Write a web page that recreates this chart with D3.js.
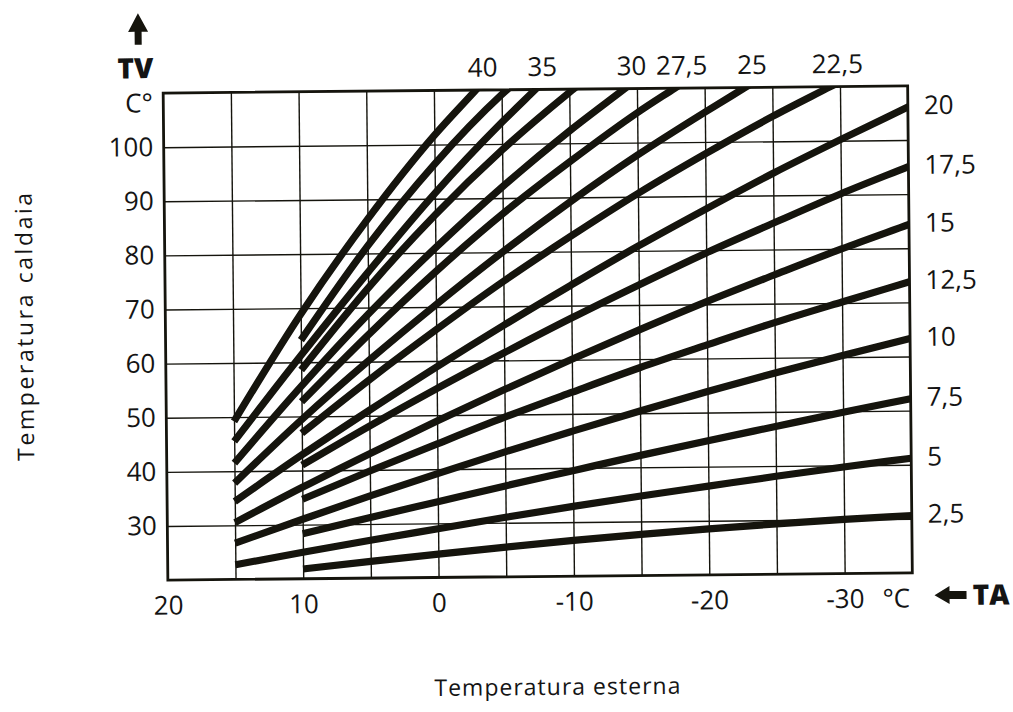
<!DOCTYPE html>
<html><head><meta charset="utf-8">
<script src="https://cdn.jsdelivr.net/npm/d3@7"></script>
<style>
body{margin:0;background:#fff}
svg{display:block}
text{font-family:"Open Sans","Noto Sans",sans-serif;fill:#141414}
</style>
</head><body>
<svg id="c" width="1013" height="712"></svg>
<script>
// ---- data ----
const taTicks = [20, 10, 0, -10, -20, -30];                 // outside temperature labels
const taGrid  = [15, 10, 5, 0, -5, -10, -15, -20, -25, -30]; // vertical grid lines
const tvTicks = [30, 40, 50, 60, 70, 80, 90, 100];           // boiler temperature labels
const ta      = [15, 10, 5, 0, -5, -10, -15, -20, -25, -30, -35]; // sample points of curves

const curveLabels = ["2,5","5","7,5","10","12,5","15","17,5","20","22,5","25","27,5","30","32,5","35","37,5","40"];

const tv2_5  = [null, 21.8, 23.1, 24.3, 25.5, 26.6, 27.6, 28.5, 29.3, 30.0, 30.6];
const tv5    = [22.7, 24.9, 27.0, 29.0, 31.0, 32.9, 34.7, 36.4, 38.1, 39.7, 41.2];
const tv7_5  = [null, 28.3, 31.2, 34.0, 36.8, 39.5, 42.2, 44.8, 47.3, 49.8, 52.2];
const tv10   = [26.7, 31.0, 35.2, 39.2, 43.1, 46.8, 50.4, 53.9, 57.2, 60.3, 63.3];
const tv12_5 = [null, 34.7, 39.8, 44.7, 49.5, 54.0, 58.4, 62.5, 66.5, 70.2, 73.8];
const tv15   = [30.5, 36.9, 43.0, 48.9, 54.6, 60.1, 65.4, 70.5, 75.3, 80.0, 84.4];
const tv17_5 = [null, 41.0, 48.1, 54.9, 61.4, 67.7, 73.7, 79.5, 84.9, 90.2, 95.1];
const tv20   = [34.4, 42.9, 51.0, 58.9, 66.5, 73.8, 80.9, 87.6, 94.1, 100.2, 106.1];
const tv22_5 = [null, 46.9, 56.6, 65.8, 74.6, 82.8, 90.6, 97.8, 104.6, null, null];
const tv25   = [37.8, 49.4, 60.2, 70.4, 80.1, 89.2, 97.7, 105.5, null, null, null];
const tv27_5 = [null, 52.7, 65.0, 76.5, 87.1, 96.6, 105.5, null, null, null, null];
const tv30   = [41.5, 55.6, 68.8, 80.9, 92.1, 102.3, null, null, null, null, null];
const tv32_5 = [null, 58.6, 73.6, 87.0, 98.9, 109.4, null, null, null, null, null];
const tv35   = [45.5, 61.3, 76.5, 91.0, 104.0, null, null, null, null, null, null];
const tv37_5 = [null, 64.1, 81.4, 96.4, 109.1, null, null, null, null, null, null];
const tv40   = [49.2, 68.9, 86.3, 101.7, null, null, null, null, null, null, null];

// outside temperature where a curve reaches the top edge (TV = 110)
const curveTopTA = [null,null,null,null,null,null,null,null,-29.3,-23.0,-17.8,-14.1,-10.3,-7.5,-5.4,-3.1];
const tvTop = 110;

const curveValues = [tv2_5,tv5,tv7_5,tv10,tv12_5,tv15,tv17_5,tv20,tv22_5,tv25,tv27_5,tv30,tv32_5,tv35,tv37_5,tv40];

// ---- layout ----
const M = {left:165.5, right:910, top:89.5, bottom:576.5};
const x = d3.scaleLinear().domain([20, -35]).range([M.left, M.right]);
const y = d3.scaleLinear().domain([20, 110]).range([M.bottom, M.top]);
const ink = "#15140d";

const svg = d3.select("#c");
const g = svg.append("g").attr("transform","rotate(-0.55 537 333)");

// grid
g.append("g").attr("transform",`translate(0,${M.bottom})`)
  .call(d3.axisBottom(x).tickValues(taGrid).tickSize(-(M.bottom-M.top)).tickFormat(""))
  .call(s=>s.select(".domain").remove())
  .call(s=>s.selectAll("line").attr("stroke",ink).attr("stroke-width",1.4));
g.append("g").attr("transform",`translate(${M.left},0)`)
  .call(d3.axisLeft(y).tickValues(tvTicks).tickSize(-(M.right-M.left)).tickFormat(""))
  .call(s=>s.select(".domain").remove())
  .call(s=>s.selectAll("line").attr("stroke",ink).attr("stroke-width",1.4));

// curves
g.append("clipPath").attr("id","plot").append("rect")
  .attr("x",M.left).attr("y",M.top).attr("width",M.right-M.left).attr("height",M.bottom-M.top);

const line = d3.line().curve(d3.curveMonotoneX);
const curves = g.append("g").attr("clip-path","url(#plot)");
curveValues.forEach((vals,i)=>{
  const pts = [];
  ta.forEach((t,j)=>{ if(vals[j]!=null) pts.push([x(t), y(vals[j])]); });
  if(curveTopTA[i]!=null) pts.push([x(curveTopTA[i]), y(tvTop)]);
  // prolong the last segment a little so the clip cuts it cleanly at the frame
  const a = pts[pts.length-2], b = pts[pts.length-1];
  const dx = b[0]-a[0], dy = b[1]-a[1], L = Math.hypot(dx,dy);
  pts.push([b[0]+dx/L*12, b[1]+dy/L*12]);
  curves.append("path").attr("d", line(pts))
    .attr("fill","none").attr("stroke",ink).attr("stroke-width",7.2).attr("stroke-linecap","butt");
});

// frame
g.append("rect").attr("x",M.left).attr("y",M.top)
  .attr("width",M.right-M.left).attr("height",M.bottom-M.top)
  .attr("fill","none").attr("stroke",ink).attr("stroke-width",2.8);

// y tick labels
g.append("g").attr("transform",`translate(${M.left},0)`)
  .call(d3.axisLeft(y).tickValues(tvTicks).tickSize(0).tickPadding(10.5))
  .call(s=>s.select(".domain").remove())
  .call(s=>s.selectAll("text").attr("font-size",26).attr("font-family",null).attr("fill","#141414"));

// x tick labels
g.append("g").attr("transform",`translate(0,${M.bottom})`)
  .call(d3.axisBottom(x).tickValues(taTicks).tickSize(0).tickPadding(16).tickFormat(d=>String(d)))
  .call(s=>s.select(".domain").remove())
  .call(s=>s.selectAll("text").attr("font-size",26).attr("font-family",null).attr("fill","#141414"));

g.append("text").attr("x",880).attr("y",611).attr("font-size",26).text("°C");

// curve labels: right side
curveValues.forEach((vals,i)=>{
  if(curveTopTA[i]!=null) return;
  g.append("text").attr("x",M.right+16).attr("y",y(vals[vals.length-1])-2)
    .attr("dy","0.36em").attr("font-size",26).text(curveLabels[i]);
});
// curve labels: top side (only the labelled ones)
const topLabelled = ["22,5","25","27,5","30","35","40"];
curveValues.forEach((vals,i)=>{
  if(curveTopTA[i]==null || !topLabelled.includes(curveLabels[i])) return;
  g.append("text").attr("x",x(curveTopTA[i])+7).attr("y",M.top-13.5)
    .attr("text-anchor","middle").attr("font-size",26).text(curveLabels[i]);
});

// TV marker
g.append("path").attr("d","M141,9.5 L151,28 L144.5,28 L144.5,41 L137.5,41 L137.5,28 L131,28 Z").attr("fill",ink);
g.append("text").attr("x",138).attr("y",74.5).attr("text-anchor","middle")
  .attr("font-size",28).attr("font-weight",800).text("TV");
g.append("text").attr("x",155).attr("y",108.5).attr("text-anchor","end")
  .attr("font-size",26).text("C°");

// TA marker
g.append("path").attr("d","M932,599 L947,590 L947,595 L964,595 L964,603 L947,603 L947,608 Z").attr("fill",ink);
g.append("text").attr("x",970).attr("y",609).attr("font-size",28).attr("font-weight",800).text("TA");

// axis titles
g.append("text").attr("transform","translate(33,322) rotate(-90)")
  .attr("text-anchor","middle").attr("font-size",23)
  .attr("textLength",268).attr("lengthAdjust","spacing").text("Temperatura caldaia");
g.append("text").attr("x",554).attr("y",695)
  .attr("text-anchor","middle").attr("font-size",23)
  .attr("textLength",246).attr("lengthAdjust","spacing").text("Temperatura esterna");
</script>
</body></html>
